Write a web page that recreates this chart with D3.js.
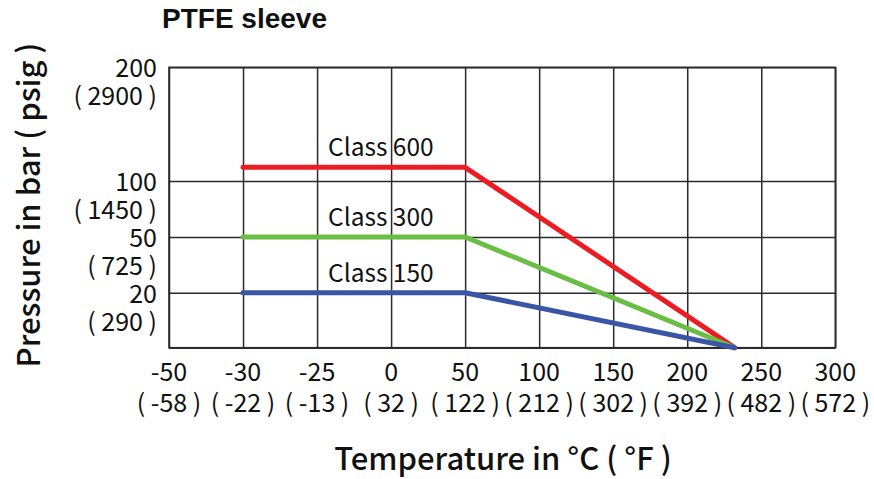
<!DOCTYPE html>
<html>
<head>
<meta charset="utf-8">
<script src="https://cdn.jsdelivr.net/npm/d3@7"></script>
<style>
  html, body { margin: 0; padding: 0; background: #fff; }
  svg { display: block; }
  .tick-label { font-family: "Noto Sans CJK TC", "Noto Sans", sans-serif; font-size: 25px; fill: #111; }
</style>
</head>
<body>
<svg id="chart" width="874" height="479"></svg>
<script>
// ---- data ----
const xTickValues = [-50, -30, -25, 0, 50, 100, 150, 200, 250, 300];
const xTickF = ["( -58 )", "( -22 )", "( -13 )", "( 32 )", "( 122 )", "( 212 )", "( 302 )", "( 392 )", "( 482 )", "( 572 )"];
const yTickValues = [0, 20, 50, 100, 200];
const yTickPsi = ["", "( 290 )", "( 725 )", "( 1450 )", "( 2900 )"];
const seriesNames = ["Class 600", "Class 300", "Class 150"];
const temps = [-30, 50, 232];
const class600 = [112, 112, 0];
const class300 = [50, 50, 0];
const class150 = [20, 20, 0];
const seriesColors = ["#ec1c24", "#6abd45", "#3a55a5"];

// ---- layout ----
const svg = d3.select("#chart");
const pLeft = 169, pRight = 835.3, pTop = 67.3, pBottom = 347.7;
const xStep = (pRight - pLeft) / (xTickValues.length - 1);
const x = d3.scaleLinear()
  .domain(xTickValues)
  .range(xTickValues.map((d, i) => pLeft + i * xStep));
const y = d3.scaleLinear()
  .domain(yTickValues)
  .range([pBottom, 292.7, 237, 181, pTop]);

// title
svg.append("text")
  .attr("x", 162).attr("y", 28)
  .attr("font-family", "Liberation Sans, Arial, sans-serif")
  .attr("font-weight", "bold").attr("font-size", 28)
  .attr("fill", "#111")
  .text("PTFE sleeve");

// grid
const gx = svg.append("g").attr("transform", `translate(0,${pBottom})`)
  .call(d3.axisBottom(x).tickValues(xTickValues).tickSize(-(pBottom - pTop)).tickFormat(""));
const gy = svg.append("g").attr("transform", `translate(${pLeft},0)`)
  .call(d3.axisLeft(y).tickValues(yTickValues).tickSize(-(pRight - pLeft)).tickFormat(""));
[gx, gy].forEach(g => {
  g.select(".domain").remove();
  g.selectAll(".tick line").attr("stroke", "#2b2b2b").attr("stroke-width", 1.5);
});
svg.append("rect")
  .attr("x", pLeft).attr("y", pTop)
  .attr("width", pRight - pLeft).attr("height", pBottom - pTop)
  .attr("fill", "none").attr("stroke", "#2b2b2b").attr("stroke-width", 1.6);

// x tick labels
svg.selectAll(".xl1").data(xTickValues).enter().append("text")
  .attr("class", "tick-label")
  .attr("x", d => x(d)).attr("y", 381)
  .attr("text-anchor", "middle")
  .text(d => d);
svg.selectAll(".xl2").data(xTickValues).enter().append("text")
  .attr("class", "tick-label")
  .attr("x", d => x(d)).attr("y", 412)
  .attr("text-anchor", "middle")
  .text((d, i) => xTickF[i]);

// y tick labels
const yLab = yTickValues.map((v, i) => ({ v, psi: yTickPsi[i] })).filter(d => d.v !== 0);
svg.selectAll(".yl1").data(yLab).enter().append("text")
  .attr("class", "tick-label")
  .attr("x", 157).attr("y", d => y(d.v) + 10)
  .attr("text-anchor", "end")
  .text(d => d.v);
svg.selectAll(".yl2").data(yLab).enter().append("text")
  .attr("class", "tick-label")
  .attr("x", 157).attr("y", d => y(d.v) + 38)
  .attr("text-anchor", "end")
  .text(d => d.psi);

// lines
const series = [class600, class300, class150].map((vals, i) => ({
  name: seriesNames[i], color: seriesColors[i],
  pts: temps.map((t, j) => [t, vals[j]])
}));
const line = d3.line().x(d => x(d[0])).y(d => y(d[1]));
svg.selectAll(".series").data(series).enter().append("path")
  .attr("d", d => line(d.pts))
  .attr("fill", "none")
  .attr("stroke", d => d.color)
  .attr("stroke-width", 5)
  .attr("stroke-linecap", "round")
  .attr("stroke-linejoin", "round");

// series labels
svg.selectAll(".slabel").data(series).enter().append("text")
  .attr("x", x(-25) + 11)
  .attr("y", d => y(d.pts[0][1]) - 11)
  .attr("font-family", "Noto Sans CJK TC, Noto Sans, sans-serif")
  .attr("font-size", 24.5).attr("fill", "#111")
  .text(d => d.name);

// axis titles
svg.append("text")
  .attr("transform", `translate(40,${205}) rotate(-90)`)
  .attr("text-anchor", "middle")
  .attr("font-family", "Noto Sans CJK TC, Noto Sans, sans-serif")
  .attr("font-weight", 500).attr("font-size", 31).attr("fill", "#111")
  .text("Pressure in bar ( psig )");
svg.append("text")
  .attr("x", 503).attr("y", 470)
  .attr("text-anchor", "middle")
  .attr("font-family", "Noto Sans CJK TC, Noto Sans, sans-serif")
  .attr("font-weight", 500).attr("font-size", 31).attr("fill", "#111")
  .text("Temperature in °C ( °F )");
</script>
</body>
</html>
